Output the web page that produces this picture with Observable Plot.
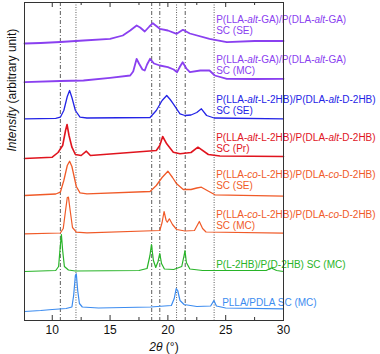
<!DOCTYPE html>
<html><head><meta charset="utf-8">
<script src="https://cdn.jsdelivr.net/npm/d3@7"></script>
<script src="https://cdn.jsdelivr.net/npm/@observablehq/plot@0.6"></script>
<style>body{margin:0;background:#fff}svg{display:block}</style>
</head><body>
<div id="chart"></div>
<script>
// ---- data: [2θ (°), intensity (arb.)] relative to each pattern's baseline ----
const aGaSE = [[7.6,0],[9.0,0.5],[10.7,1.5],[12.7,3],[15.0,4.7],[16.1,8],[16.74,13],[17.3,18],[17.6,16],[18.0,12],[18.4,17],[18.7,20.3],[19.3,14.7],[20.0,13],[20.76,9.7],[21.3,13.7],[21.9,10],[23.6,4.7],[25.1,1.3],[27.5,2.5],[30,2.5]];
const aGaMC = [[7.6,0],[10.7,1.2],[12.7,1.7],[15.0,4.4],[16.74,6.7],[17.0,10.7],[17.3,23.4],[17.5,18.7],[17.8,12.7],[18.0,11.7],[18.2,17.7],[18.46,23.4],[18.8,18.7],[19.3,16.7],[20.0,15],[20.5,12.7],[20.8,10],[21.05,15.7],[21.28,20],[21.6,13.7],[21.9,10],[22.8,11.7],[23.6,11.7],[24.06,6.7],[25.1,3.4],[27.5,3.2],[30,3.4]];
const aHbSE = [[7.6,0],[10.3,0.5],[10.7,1.6],[11.0,8.3],[11.3,22.3],[11.5,28.3],[11.7,21.3],[12.0,8.3],[12.4,1.6],[13,0.8],[18.46,1.3],[19.0,8.3],[19.5,18.3],[19.9,23.3],[20.2,19.3],[20.47,15],[21.05,5],[21.48,3.3],[22.0,3.8],[22.5,6.3],[22.9,10],[23.35,3.3],[24.0,0.8],[30,0]];
const aHbPr = [[7.6,-1.3],[10.0,0],[10.5,4.7],[10.9,11.7],[11.15,26.7],[11.28,32.7],[11.45,21.7],[11.7,10],[12.0,2.7],[12.5,1.7],[12.95,6],[13.3,1.7],[19.0,6.7],[19.3,11.7],[19.55,20.7],[19.9,13.4],[20.47,5],[21.05,3.4],[22.0,4.7],[22.6,10],[23.5,2.7],[24.5,1.2],[30,0.7]];
const coSE = [[7.6,0],[10.3,1.5],[10.7,3.3],[11.0,15],[11.3,30],[11.5,34.3],[11.7,29],[12.08,9],[12.4,2.7],[13,1.7],[18.46,4],[19.0,10],[19.5,18],[20.0,24.3],[20.4,18],[20.76,11.7],[21.33,6],[22.0,6],[22.5,7.5],[22.9,8.3],[23.4,5],[24.07,0.7],[30,-0.7]];
const coMC = [[7.6,0],[10.7,0.8],[10.95,5.3],[11.15,23.3],[11.3,36.3],[11.4,36.6],[11.55,23.3],[11.75,6.3],[12.08,1.6],[13,1],[19.3,3.3],[19.5,11.3],[19.67,22.3],[19.85,13.3],[19.95,11.6],[20.13,15],[20.4,9.3],[20.76,4.3],[21.48,2.8],[22.3,3.3],[22.72,12.3],[23.0,5.3],[23.3,1.8],[30,0.6]];
const hbMC = [[7.6,0],[10.3,1],[10.55,5],[10.7,26],[10.79,37],[10.9,21],[11.05,5],[11.4,1.5],[12,0.5],[17.5,1],[18.2,3],[18.45,16],[18.58,27],[18.75,11],[18.95,4],[19.15,10],[19.3,18],[19.45,8],[19.7,2.5],[20.5,2],[21.2,5],[21.4,16],[21.48,21],[21.6,9],[21.9,2.5],[23,1],[28.5,1],[28.95,3.5],[29.4,1],[30,0]];
const plla = [[7.6,-2.7],[9,-1.7],[10,-0.7],[11.2,0.3],[11.7,1.8],[11.85,13.3],[12.0,33.3],[12.08,35],[12.2,18.3],[12.35,5.3],[12.6,1.8],[14,0.8],[18.5,1.8],[20.3,3.3],[20.55,10.3],[20.72,20.3],[20.85,18.3],[21.05,8.3],[21.4,4.3],[22.5,2.3],[23.7,2.8],[23.98,8.3],[24.2,2.8],[25,0.8],[30,0]];

const series = [aGaSE, aGaMC, aHbSE, aHbPr, coSE, coMC, hbMC, plla];
const names = [
  "P(LLA-alt-GA)/P(DLA-alt-GA)\nSC (SE)",
  "P(LLA-alt-GA)/P(DLA-alt-GA)\nSC (MC)",
  "P(LLA-alt-L-2HB)/P(DLA-alt-D-2HB)\nSC (SE)",
  "P(LLA-alt-L-2HB)/P(DLA-alt-D-2HB)\nSC (Pr)",
  "P(LLA-co-L-2HB)/P(DLA-co-D-2HB)\nSC (SE)",
  "P(LLA-co-L-2HB)/P(DLA-co-D-2HB)\nSC (MC)",
  "P(L-2HB)/P(D-2HB) SC (MC)",
  "PLLA/PDLA SC (MC)"
];
const hbPeaks = [10.7, 18.6, 19.3, 21.5];     // dash-dot reference lines
const pllaPeaks = [12.05, 20.75, 24.0];       // dotted reference lines
const majorTicks = [10, 15, 20, 25, 30];
const minorTicks = [12.5, 17.5, 22.5, 27.5];

// ---- layout / style ----
const colors = ["#8a40f0","#8a40f0","#2424e6","#e0141e","#f05a28","#f05a28","#28b428","#3c8cf0"];
const widths = [1.8, 1.8, 1.3, 1.6, 1.3, 1.2, 1.2, 1.2];
const offsets = [277, 238.3, 201.7, 163.3, 125, 86.7, 49, 11.7];
const labelDy = [-28.3, -27, -23.6, -23.6, -25.3, -23.6, -11.3, -10.9];
const labelDx = [2, 2, 2, 2, 2, 2, 2, 8];
const W = 380, H = 354, mL = 24, mR = 97, mT = 2, mB = 34;
const frameH = H - mT - mB;

const marks = [
  Plot.ruleX(hbPeaks, {stroke: "#333", strokeWidth: 0.8, strokeDasharray: "4,2,1,2"}),
  Plot.ruleX(pllaPeaks, {stroke: "#333", strokeWidth: 0.8, strokeDasharray: "1,1.5"})
];
series.forEach((s, i) => {
  marks.push(Plot.line(s, {x: d => d[0], y: d => offsets[i] + d[1], stroke: colors[i], strokeWidth: widths[i]}));
  marks.push(Plot.text([names[i]], {x: () => pllaPeaks[2], y: () => offsets[i], text: d => d,
    dx: labelDx[i], dy: labelDy[i], textAnchor: "start", lineAnchor: "top", lineHeight: 1.1,
    fill: colors[i], fontSize: 10}));
});
marks.push(
  Plot.frame({stroke: "#333", strokeWidth: 1}),
  Plot.tickX(majorTicks, {x: d => d, insetTop: frameH - 5, stroke: "#333"}),
  Plot.tickX(majorTicks, {x: d => d, insetBottom: frameH - 5, stroke: "#333"}),
  Plot.tickX(minorTicks, {x: d => d, insetTop: frameH - 3, stroke: "#333"}),
  Plot.tickX(minorTicks, {x: d => d, insetBottom: frameH - 3, stroke: "#333"}),
  Plot.axisX(majorTicks, {anchor: "bottom", tickSize: 0, tickPadding: 5, fontSize: 12, label: null, fill: "#111"}),
  Plot.text(["2θ (°)"], {frameAnchor: "bottom", dx: 10, dy: 27, lineAnchor: "middle", fontSize: 12, fill: "#111"}),
  Plot.text(["Intensity (arbitrary unit)"], {frameAnchor: "left", rotate: -90, dx: -12, dy: -10, lineAnchor: "middle", fontSize: 12, fill: "#111"})
);

const chart = Plot.plot({
  width: W, height: H,
  marginLeft: mL, marginRight: mR, marginTop: mT, marginBottom: mB,
  style: {fontFamily: "'Liberation Sans', Arial, sans-serif", background: "#fff", overflow: "visible"},
  x: {domain: [7.6, 30], axis: null},
  y: {domain: [0, frameH], axis: null},
  marks
});

// italic parts of the labels
chart.querySelectorAll("text").forEach(t => {
  const tsp = t.querySelectorAll("tspan");
  const els = tsp.length ? Array.from(tsp) : [t];
  els.forEach(el => {
    const s = el.textContent;
    if (/(alt|co)-|Intensity|2θ/.test(s)) {
      const esc = s.replace(/&/g, "&amp;").replace(/</g, "&lt;");
      el.innerHTML = esc
        .replace(/\b(alt|co)(?=-)/g, '<tspan font-style="italic">$1</tspan>')
        .replace(/^Intensity/, '<tspan font-style="italic">Intensity</tspan>')
        .replace(/^2θ/, '<tspan font-style="italic">2θ</tspan>');
    }
  });
});
document.getElementById("chart").appendChild(chart);
</script>
</body></html>
